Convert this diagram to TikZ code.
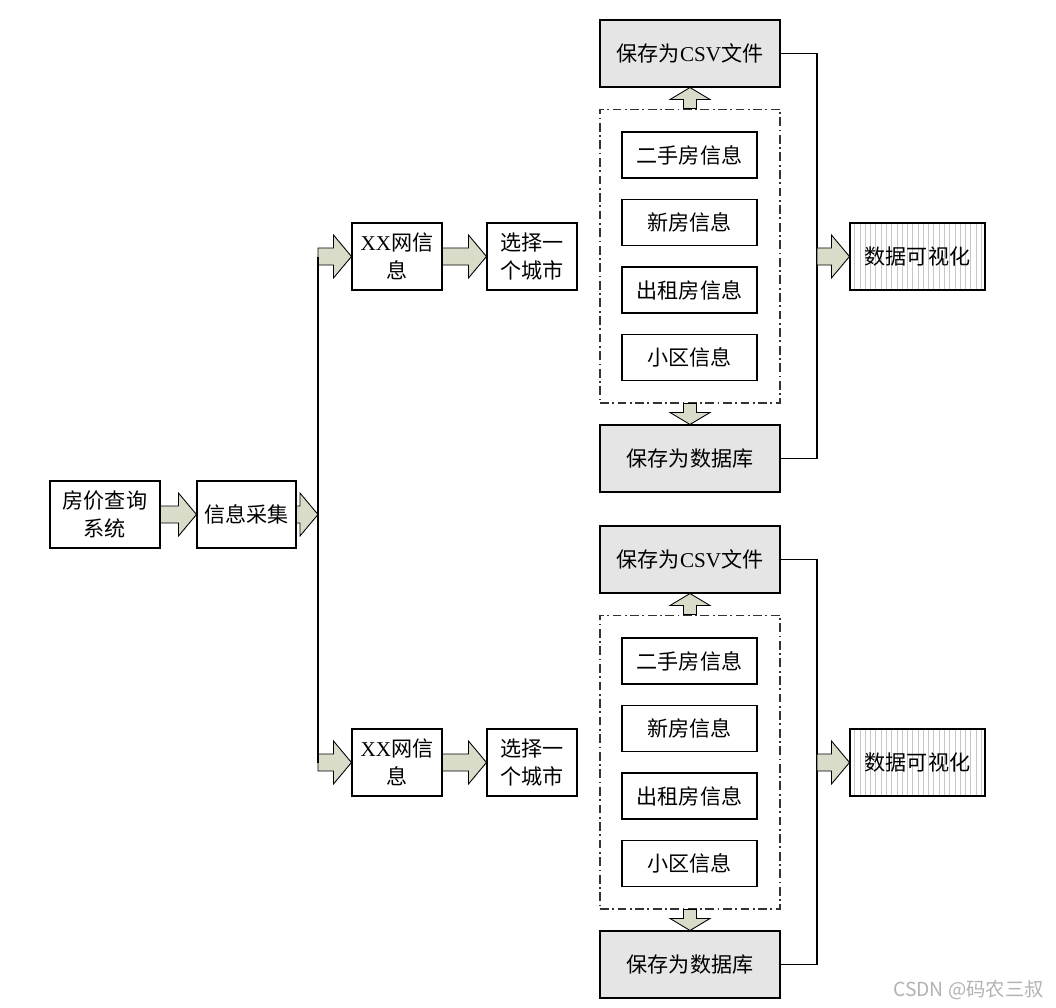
\documentclass[tikz,border=0pt]{standalone}
\usepackage{fontspec}
\setmainfont{Liberation Serif}
\newfontfamily\cjk{Noto Sans CJK SC}
\usetikzlibrary{calc,patterns}
\definecolor{arrowfill}{RGB}{216,220,200}
\tikzset{
	box/.style = {draw=black, line width=0.6pt, align=center, inner sep=0pt, font=\cjk\fontsize{12}{16}\selectfont, minimum height=1.34cm},
	savebox/.style = {box, fill=black!10, minimum width=3.6cm},
	itembox/.style = {box, minimum width=2.7cm, minimum height=0.92cm},
	visbox/.style = {box, pattern=vertical lines, pattern color=black!22, minimum width=2.7cm},
	group/.style = {draw=black!80, line width=0.6pt, dash pattern=on 5pt off 2pt on 1pt off 2pt, minimum width=3.6cm, minimum height=5.88cm},
	fat/.style = {draw=black, line width=0.5pt, fill=arrowfill, line join=miter},
	link/.style = {draw=black, line width=0.6pt},
	watermark/.style = {font=\cjk\fontsize{11}{13}\selectfont, text=black!30, anchor=east}
}
\newcommand{\fatarrow}[5]{%
	\coordinate (fatneck) at ($(#2)!#5!(#1)$);
	\draw[fat] ($(#1)!#3!90:(#2)$) -- ($(fatneck)!#3!90:(#2)$) -- ($(fatneck)!#4!90:(#2)$) -- (#2)
		-- ($(fatneck)!#4!-90:(#2)$) -- ($(fatneck)!#3!-90:(#2)$) -- ($(#1)!#3!-90:(#2)$) -- cycle;}
\newcommand{\harrow}[2]{\fatarrow{#1}{#2}{0.17cm}{0.43cm}{0.36cm}}
\newcommand{\varrow}[2]{\fatarrow{#1}{#2}{0.13cm}{0.40cm}{0.24cm}}

\begin{document}
\begin{tikzpicture}[x=0.02cm, y=-0.02cm]
	\useasboundingbox (0,0) rectangle (1056,1008);
	\node [box, minimum width=2.2cm] (sys) at (105,514.5) {房价查询\\系统};
	\node [box, minimum width=1.98cm] (collect) at (246.5,514.5) {信息采集};
	\coordinate (bus) at (318,514.5);
	\harrow{sys.east}{collect.west}
	\foreach \i/\dy in {1/0, 2/506} {
		\node [box, minimum width=1.8cm] (web\i) at (397,256.5+\dy) {{\rmfamily XX}网信\\息};
		\node [box, minimum width=1.8cm] (city\i) at (532,256.5+\dy) {选择一\\个城市};
		\node [group] (grp\i) at (690,256+\dy) {};
		\foreach \j/\name in {1/二手房信息, 2/新房信息, 3/出租房信息, 4/小区信息}
			\node [itembox] (item\i\j) at (689.5,155+67.5*\j-67.5+\dy) {\name};
		\node [savebox] (csv\i) at (690,53.5+\dy) {保存为{\rmfamily CSV}文件};
		\node [savebox] (db\i) at (690,458.5+\dy) {保存为数据库};
		\node [visbox] (vis\i) at (917.5,256.5+\dy) {数据可视化};
		\coordinate (branch\i) at (318,256.5+\dy);
		\coordinate (rbus\i) at (817,256.5+\dy);
		\draw [link] (csv\i.east) -| (rbus\i) |- (db\i.east);
		\harrow{branch\i}{web\i.west}
		\harrow{web\i.east}{city\i.west}
		\varrow{grp\i.north}{csv\i.south}
		\varrow{grp\i.south}{db\i.north}
		\harrow{rbus\i}{vis\i.west}
	}
	\draw [link] (branch1) -- (branch2);
	\harrow{collect.east}{bus}
	\node [watermark] (wm) at (1050,990) {CSDN @码农三叔};
\end{tikzpicture}
\end{document}
